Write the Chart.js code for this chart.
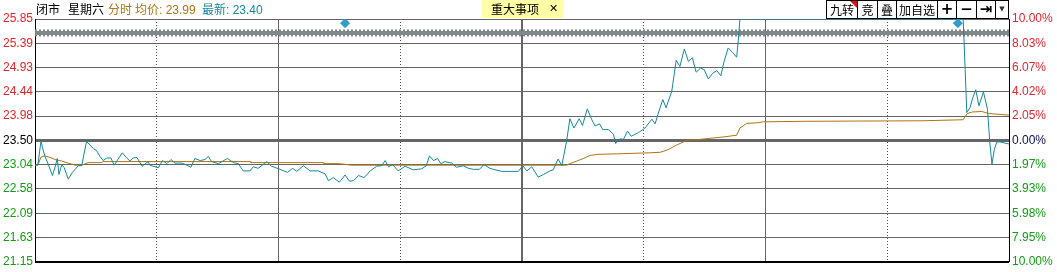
<!DOCTYPE html>
<html lang="zh">
<head>
<meta charset="utf-8">
<script src="https://cdn.jsdelivr.net/npm/chart.js"></script>
<style>
  body { margin: 0; background: #fff; width: 1057px; height: 272px; overflow: hidden; position: relative;
         font-family: "Noto Sans CJK SC", sans-serif; }
  #wrap { position: absolute; left: 0; top: 0; width: 1057px; height: 272px; }
  .hd { position: absolute; top: 0; font-size: 12px; line-height: 17px; white-space: nowrap; }
  .num { font-family: Arial, "Liberation Sans", sans-serif; }
  .btn { position: absolute; top: 0; height: 19px; border: 1px solid #000; background: #fff; box-sizing: border-box;
         font-size: 12px; line-height: 17px; text-align: center; color: #000; }
  .ico { font-family: "DejaVu Sans", sans-serif; font-weight: bold; }
  #tri { position: absolute; right: 0; top: 0; width: 0; height: 0; border-top: 7px solid #e01010; border-left: 7px solid transparent; }
  #news { position: absolute; left: 482px; top: 0; width: 81px; height: 18px; background: #ffffa6; }
</style>
</head>
<body>
<div id="wrap"><canvas id="fenshi" width="1057" height="272"></canvas></div>

<!-- header -->
<span class="hd" style="left:36px">闭市</span>
<span class="hd" style="left:68px">星期六</span>
<span class="hd" style="left:108px;color:#b07412">分时</span>
<span class="hd" style="left:135px;color:#b07412">均价<span class="num">: 23.99</span></span>
<span class="hd" style="left:202px;color:#17879a">最新<span class="num">: 23.40</span></span>

<div id="news">
  <span class="hd" style="left:9px">重大事项</span>
  <span class="hd ico" style="left:67px;font-weight:normal;font-size:11px">✕</span>
</div>

<!-- toolbar -->
<div class="btn" style="left:826px;width:32px">九转<div id="tri"></div></div>
<div class="btn" style="left:857px;width:21px">竞</div>
<div class="btn" style="left:877px;width:20px">叠</div>
<div class="btn" style="left:896px;width:42px">加自选</div>
<div class="btn ico" style="left:937px;width:20px;font-size:15px">+</div>
<div class="btn ico" style="left:956px;width:21px;font-size:15px">−</div>
<div class="btn ico" style="left:976px;width:20px;font-size:15px;line-height:16px">⇥</div>
<div class="btn ico" style="left:995px;width:14px;font-size:7px;line-height:16px;color:#333">▼</div>

<script>
  // minutes from open (0..240) and price
  const priceMin = [
    0, 0.7, 1.5, 1.8, 2.5, 3.3, 4.3, 4.9, 5.5, 5.9,
    6.6, 7.2, 8.2, 9.2, 10.7, 11.5, 12.7, 14.4, 15.2, 16.0,
    16.8, 17.7, 18.7, 19.5, 21.5, 22.6, 23.4, 24.2, 25.1, 26.4,
    27.9, 28.3, 30.4, 31.4, 32.5, 33.5, 34.5, 36.2, 37.4, 38.4,
    39.4, 40.7, 41.9, 42.7, 43.5, 45.2, 47.4, 48.9, 50.1, 51.3,
    53.0, 53.8, 55.0, 57.1, 58.3, 60.4, 62.2, 63.5, 64.5, 66.1,
    67.8, 69.8, 71.5, 72.3, 73.5, 75.0, 76.4, 77.5, 78.4, 79.7,
    81.1, 82.6, 84.2, 85.4, 86.3, 87.1, 88.1, 89.5, 91.2, 93.2,
    95.3, 96.4, 97.2, 98.2, 99.2, 100.0, 101.0, 102.7, 103.9, 105.5,
    106.8, 108.0, 109.5, 110.6, 112.1, 112.9, 115.0, 117.5, 119.1, 120.2,
    121.2, 122.4, 124.0, 125.3, 126.9, 127.7, 128.9, 129.8, 131.0, 131.8,
    132.8, 134.1, 134.9, 136.1, 137.2, 138.0, 139.1, 139.9, 141.3, 142.5,
    143.1, 144.2, 145.0, 146.0, 146.9, 148.7, 150.3, 152.0, 152.8, 153.6,
    154.7, 155.5, 156.9, 158.0, 158.9, 160.0, 161.0, 162.0, 162.9, 164.0,
    164.9, 165.9, 167.0, 168.0, 169.0, 169.8, 170.8, 171.9, 172.9, 173.3,
    173.7, 228.7, 229.2, 229.6, 230.4, 231.1, 231.8, 232.6, 233.7, 234.7,
    235.3, 235.8, 236.4, 237.0, 237.8, 240
  ];
  const priceVal = [
    23.02, 23.02, 23.50, 23.37, 23.18, 23.03, 22.82, 22.97, 23.15, 22.84,
    23.03, 22.97, 22.75, 22.88, 23.01, 23.01, 23.48, 23.34, 23.30, 23.19,
    23.11, 23.16, 23.16, 23.02, 23.26, 23.16, 23.10, 23.16, 23.17, 23.00,
    23.09, 23.02, 22.97, 23.11, 23.05, 23.13, 23.06, 23.06, 23.02, 22.98,
    23.15, 23.11, 23.13, 23.19, 23.09, 23.05, 23.15, 23.07, 23.05, 22.91,
    22.91, 22.99, 22.96, 23.09, 23.00, 22.94, 22.88, 22.96, 22.90, 23.01,
    22.91, 22.91, 22.85, 22.72, 22.78, 22.69, 22.83, 22.71, 22.72, 22.82,
    22.78, 22.91, 23.00, 23.01, 23.11, 22.99, 23.03, 22.91, 23.00, 22.93,
    22.95, 23.01, 23.20, 23.11, 23.15, 23.05, 23.09, 23.06, 22.98, 23.01,
    22.96, 22.94, 22.94, 23.03, 22.96, 22.94, 22.90, 22.90, 22.90, 23.01,
    22.91, 22.99, 22.79, 22.84, 22.91, 22.93, 23.14, 23.01, 23.49, 23.92,
    23.74, 23.92, 23.79, 24.11, 23.90, 23.78, 23.82, 23.71, 23.71, 23.62,
    23.44, 23.53, 23.52, 23.68, 23.58, 23.65, 23.74, 23.91, 23.82, 24.03,
    24.29, 24.13, 24.45, 25.05, 24.93, 25.27, 25.03, 25.10, 24.82, 24.90,
    24.87, 24.69, 24.80, 24.85, 24.75, 25.03, 25.29, 25.20, 25.11, 25.44,
    25.85, 25.85, 24.87, 24.04, 24.14, 24.33, 24.48, 24.17, 24.44, 24.10,
    23.43, 23.04, 23.33, 23.47, 23.47, 23.43
  ];
  // average price line
  const avgMin = [
    0, 0.7, 1.5, 2.5, 3.7, 4.9, 6.6, 8.2, 9.9, 11.5,
    13.1, 16.4, 16.8, 53.0, 53.2, 71.0, 71.2, 75.0, 78.0, 131.0,
    131.8, 133.5, 135.1, 136.8, 138.7, 143.3, 151.5, 154.0, 155.7, 158.1,
    160.6, 163.9, 166.3, 170.0, 172.9, 173.7, 175.4, 177.8, 179.5, 190.0,
    218.8, 228.7, 229.7, 231.0, 233.3, 235.0, 240
  ];
  const avgVal = [
    23.02, 23.02, 23.18, 23.20, 23.17, 23.13, 23.10, 23.06, 23.02, 23.02,
    23.07, 23.07, 23.09, 23.09, 23.07, 23.07, 23.05, 23.05, 23.02, 23.02,
    23.05, 23.10, 23.15, 23.21, 23.23, 23.24, 23.26, 23.27, 23.31, 23.41,
    23.50, 23.52, 23.54, 23.57, 23.60, 23.74, 23.83, 23.84, 23.86, 23.87,
    23.88, 23.90, 24.02, 24.05, 24.06, 24.02, 23.99
  ];
  // event markers (diamonds) and the grey reference band
  const eventMin = [76.4, 227.4];
  const eventVal = [25.77, 25.77];
  const bandVal = 25.58;

  const yLabels = ['21.15', '21.63', '22.09', '22.58', '23.04', '23.50', '23.98', '24.44', '24.93', '25.39', '25.85'];
  const pctLabels = ['10.00%', '7.95%', '5.98%', '3.93%', '1.97%', '0.00%', '2.05%', '4.02%', '6.07%', '8.03%', '10.00%'];
  const xTicks = [0, 30, 60, 90, 120, 150, 180, 210, 240];

  const yMin = 21.15, yMax = 25.85;
  const yStep = (yMax - yMin) / 10;
  const yTickVals = yLabels.map((_, i) => yMin + i * yStep);

  const RED = '#e3242b', GREEN = '#139c13';
  const lblColor = (i, mid) => i > 5 ? RED : (i < 5 ? GREEN : mid);
  const axisFont = { family: 'Arial, "Liberation Sans", sans-serif', size: 12 };

  const pts = (xs, ys) => xs.map((x, i) => ({ x: x, y: ys[i] }));

  new Chart(document.getElementById('fenshi'), {
    type: 'line',
    data: {
      datasets: [
        { data: pts(eventMin, eventVal), showLine: false, pointStyle: 'rectRot', pointRadius: 4.5,
          pointBackgroundColor: '#2f9ccb', pointBorderColor: '#2f9ccb', order: 0 },
        { data: pts(priceMin, priceVal), borderColor: '#14899a', borderWidth: 1, pointRadius: 0, tension: 0, order: 1 },
        { data: pts(avgMin, avgVal), borderColor: '#b07412', borderWidth: 1, pointRadius: 0, tension: 0, order: 2 },
        { data: [{ x: 0, y: bandVal }, { x: 240, y: bandVal }], borderColor: '#7f8888', borderWidth: 7,
          borderDash: [2, 2], pointRadius: 0, order: 6 },
        { data: [{ x: 0, y: bandVal }, { x: 240, y: bandVal }], borderColor: '#7f8888', borderWidth: 4,
          pointRadius: 0, order: 5 }
      ]
    },
    options: {
      responsive: false,
      animation: false,
      devicePixelRatio: 1,
      layout: { padding: { top: 19, bottom: 9, left: 0, right: 0 } },
      plugins: { legend: { display: false }, tooltip: { enabled: false } },
      scales: {
        x: {
          type: 'linear', min: 0, max: 240,
          afterBuildTicks: s => { s.ticks = xTicks.map(v => ({ value: v })); },
          afterFit: s => { s.height = 0; },
          ticks: { display: false },
          border: {
            display: false,
            dash: c => (c.index % 2 === 1 ? [1, 2] : [])
          },
          grid: {
            drawTicks: false,
            color: c => (c.index === 0 || c.index === 8) ? 'rgba(0,0,0,0)' : (c.index % 2 === 1 ? '#555' : '#666'),
            lineWidth: c => c.index === 4 ? 2 : 1
          }
        },
        y: {
          position: 'left', min: yMin, max: yMax,
          afterBuildTicks: s => { s.ticks = yTickVals.map(v => ({ value: v })); },
          afterFit: s => { s.width = 35; },
          border: { display: true, color: '#000', width: 1 },
          ticks: {
            autoSkip: false, padding: 2, font: axisFont,
            callback: (v, i) => yLabels[i],
            color: c => lblColor(c.index, '#000')
          },
          grid: {
            drawTicks: false,
            color: c => c.index === 0 ? '#000' : '#666',
            lineWidth: c => c.index === 0 ? 2 : (c.index === 5 ? 3 : 1)
          }
        },
        y2: {
          position: 'right', min: yMin, max: yMax,
          afterBuildTicks: s => { s.ticks = yTickVals.map(v => ({ value: v })); },
          afterFit: s => { s.width = 48; },
          border: { display: true, color: '#000', width: 1 },
          ticks: {
            autoSkip: false, padding: 3, font: axisFont,
            callback: (v, i) => pctLabels[i],
            color: c => lblColor(c.index, '#0b0b55')
          },
          grid: { drawOnChartArea: false, drawTicks: false }
        }
      }
    }
  });
</script>
</body>
</html>
